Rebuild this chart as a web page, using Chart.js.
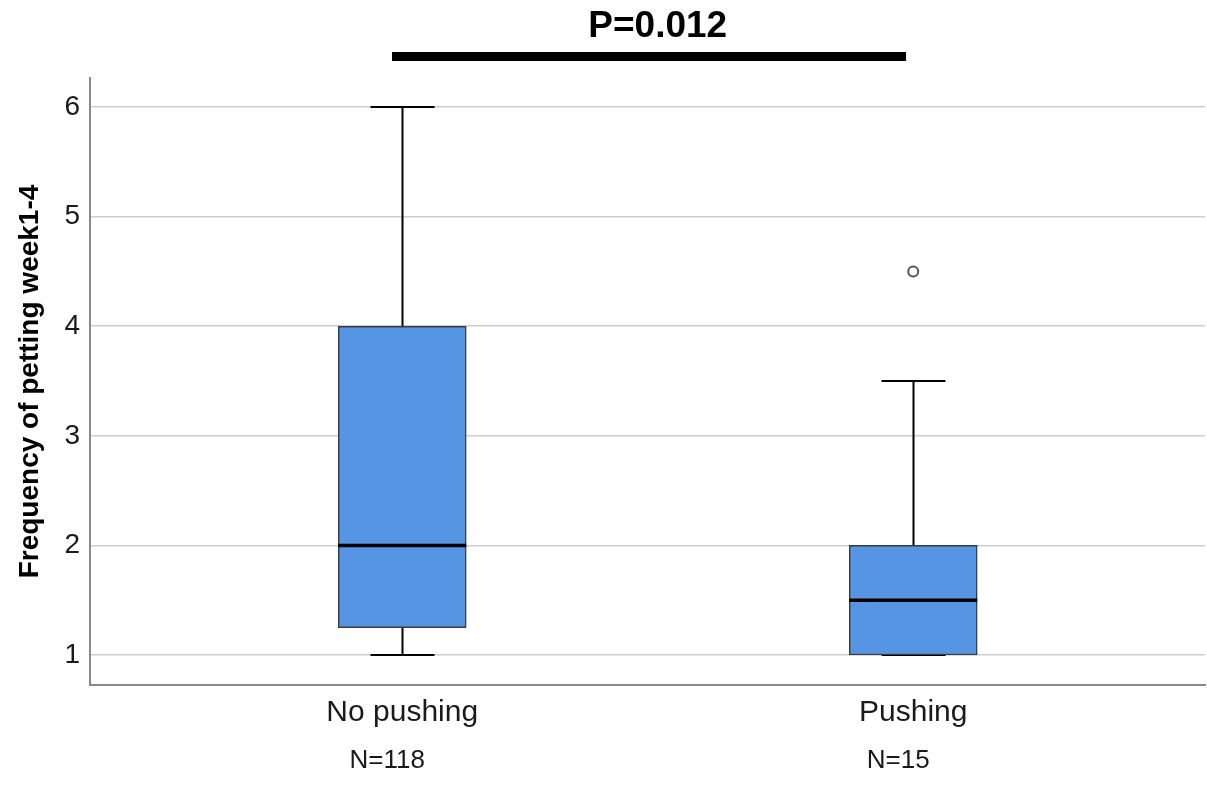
<!DOCTYPE html>
<html>
<head>
<meta charset="utf-8">
<title>Frequency of petting week1-4</title>
<script src="https://cdn.jsdelivr.net/npm/chart.js@4.4.1/dist/chart.umd.min.js"></script>
<style>
  html, body { margin: 0; padding: 0; background: #ffffff; overflow: hidden; }
  #wrap { width: 1207px; height: 787px; position: relative; }
</style>
</head>
<body>
<div id="wrap"><canvas id="box-chart"></canvas></div>
<script>
// 数据：两组的箱线图统计量
const groups = ['No pushing', 'Pushing'];
const groupN = ['N=118', 'N=15'];
const groupPos = [1, 2];
const whiskerLow = [1, 1];
const q1 = [1.25, 1];
const median = [2, 1.5];
const q3 = [4, 2];
const whiskerHigh = [6, 3.5];
const outlierPos = [2];
const outlierValue = [4.5];
const yTicks = [1, 2, 3, 4, 5, 6];
const pValueText = 'P=0.012';
const sigSpan = [0.98, 1.986]; // 显著性横条覆盖的组位置范围

const FONT = "'Liberation Sans', Arial, sans-serif";

// 去掉刻度标签带来的左右留白，让绘图区贴到画布右边
const noSidePadding = s => { s.paddingLeft = 0; s.paddingRight = 0; };

// 须线、中位数线和 P 值标注，用刻度换算像素
const boxExtras = {
    id: 'boxExtras',
    beforeDatasetsDraw(chart) {
        const { ctx, scales: { x, y } } = chart;
        const meta = chart.getDatasetMeta(0);
        ctx.save();
        ctx.strokeStyle = '#000';
        ctx.lineWidth = 2;
        groupPos.forEach((p, i) => {
            const cx = Math.round(x.getPixelForValue(p)) + 0.5;
            const half = meta.data[i].width / 4;
            const lo = y.getPixelForValue(whiskerLow[i]);
            const hi = y.getPixelForValue(whiskerHigh[i]);
            ctx.beginPath();
            ctx.moveTo(cx, y.getPixelForValue(q1[i]));
            ctx.lineTo(cx, lo);
            ctx.moveTo(cx, y.getPixelForValue(q3[i]));
            ctx.lineTo(cx, hi);
            ctx.moveTo(cx - half, lo);
            ctx.lineTo(cx + half, lo);
            ctx.moveTo(cx - half, hi);
            ctx.lineTo(cx + half, hi);
            ctx.stroke();
        });
        ctx.restore();
    },
    afterDatasetsDraw(chart) {
        const { ctx, scales: { x, y } } = chart;
        const meta = chart.getDatasetMeta(0);
        ctx.save();
        ctx.strokeStyle = '#000';
        ctx.lineWidth = 3.5;
        groupPos.forEach((p, i) => {
            const el = meta.data[i];
            const my = y.getPixelForValue(median[i]);
            ctx.beginPath();
            ctx.moveTo(el.x - el.width / 2, my);
            ctx.lineTo(el.x + el.width / 2, my);
            ctx.stroke();
        });
        // P 值与下方横条
        const x0 = x.getPixelForValue(sigSpan[0]);
        const x1 = x.getPixelForValue(sigSpan[1]);
        const top = chart.chartArea.top;
        ctx.fillStyle = '#000';
        ctx.fillRect(x0, top - 26, x1 - x0, 9);
        ctx.font = `bold 37px ${FONT}`;
        ctx.textAlign = 'center';
        ctx.textBaseline = 'middle';
        const mid = (groupPos[0] + groupPos[groupPos.length - 1]) / 2;
        ctx.fillText(pValueText, x.getPixelForValue(mid), top - 51);
        ctx.restore();
    }
};

const ctx = document.getElementById('box-chart').getContext('2d');
new Chart(ctx, {
    type: 'bar',
    data: {
        datasets: [
            {
                type: 'bar',
                label: 'box',
                data: groupPos.map((p, i) => ({ x: p, y: [q1[i], q3[i]] })),
                backgroundColor: '#5595e4',
                borderColor: '#3a3a3a',
                borderWidth: 1.5,
                borderSkipped: false,
                barThickness: 128,
                order: 2
            },
            {
                type: 'scatter',
                label: 'outlier',
                data: outlierPos.map((p, i) => ({ x: p, y: outlierValue[i] })),
                pointStyle: 'circle',
                pointRadius: 5,
                backgroundColor: 'rgba(255,255,255,1)',
                borderColor: '#555',
                borderWidth: 2,
                order: 1
            }
        ]
    },
    options: {
        responsive: true,
        maintainAspectRatio: false,
        animation: false,
        layout: { autoPadding: false, padding: { left: 13, right: 2, top: 78, bottom: 0 } },
        plugins: {
            legend: { display: false },
            tooltip: { enabled: false },
            title: { display: false }
        },
        scales: {
            x: {
                type: 'linear',
                position: 'bottom',
                offset: false,
                min: 0.389,
                max: 2.571,
                afterBuildTicks: s => { s.ticks = groupPos.map(v => ({ value: v })); },
                afterFit: s => { s.height = 52; noSidePadding(s); },
                ticks: {
                    callback: v => groups[groupPos.indexOf(v)],
                    color: '#1a1a1a',
                    font: { family: FONT, size: 30 },
                    padding: 10,
                    maxRotation: 0
                },
                grid: { display: false, drawTicks: false },
                border: { display: true, color: '#8a8a8a', width: 2 }
            },
            xN: {
                type: 'linear',
                position: 'bottom',
                offset: false,
                min: 0.389,
                max: 2.571,
                afterBuildTicks: s => { s.ticks = groupPos.map(v => ({ value: v })); },
                afterFit: s => { s.height = 50; noSidePadding(s); },
                ticks: {
                    callback: v => groupN[groupPos.indexOf(v)],
                    color: '#1a1a1a',
                    font: { family: FONT, size: 26 },
                    padding: 8,
                    labelOffset: -15,
                    maxRotation: 0
                },
                grid: { display: false, drawTicks: false },
                border: { display: false }
            },
            y: {
                min: 0.726,
                max: 6.265,
                afterBuildTicks: s => { s.ticks = yTicks.map(v => ({ value: v })); },
                afterFit: s => { s.width = 77; noSidePadding(s); },
                ticks: {
                    color: '#1a1a1a',
                    font: { family: FONT, size: 28 },
                    padding: 10
                },
                grid: { color: '#cdcdcd', lineWidth: 1.5, drawTicks: false },
                border: { display: true, color: '#8a8a8a', width: 2 },
                title: {
                    display: true,
                    text: 'Frequency of petting week1-4',
                    color: '#000',
                    font: { family: FONT, size: 28, weight: 'bold' },
                    padding: { top: 0, bottom: 4 }
                }
            }
        }
    },
    plugins: [boxExtras]
});
</script>
</body>
</html>
